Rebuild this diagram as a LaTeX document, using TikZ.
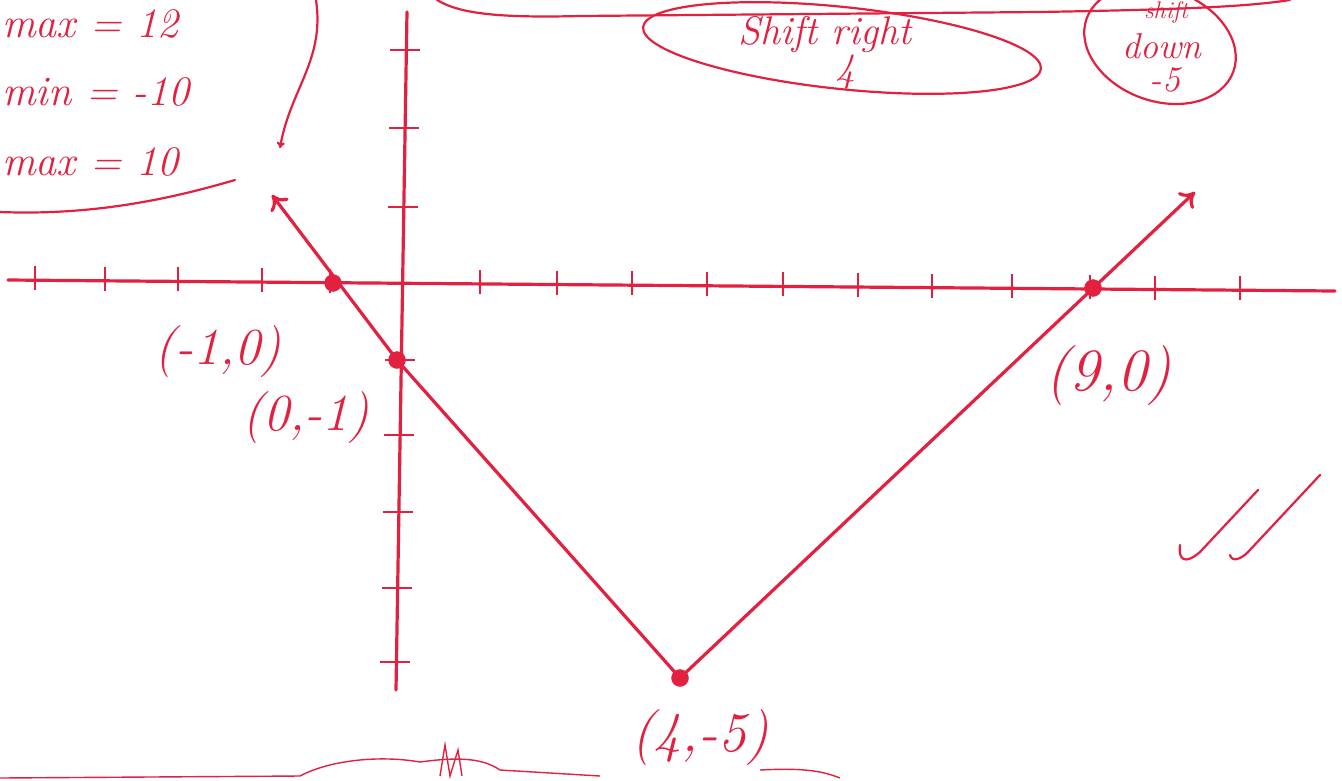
\documentclass[tikz,border=0pt]{standalone}
\usetikzlibrary{arrows.meta,shapes.geometric}
\definecolor{ink}{RGB}{226,32,64}
\begin{document}
\begin{tikzpicture}[x=1pt,y=-1pt,
  pen/.style={ink,line width=3.2pt,line cap=round,line join=round},
  thin pen/.style={ink,line width=2.2pt,line cap=round},
  dotpt/.style={circle,fill=ink,draw=ink,inner sep=0pt,minimum size=17pt},
  lab/.style={ink,font=\fontsize{52}{56}\selectfont\itshape},
  note/.style={ink,font=\fontsize{42}{46}\selectfont\itshape},
  small note/.style={ink,font=\fontsize{40}{44}\selectfont\itshape},
  tick/.style={ink,line width=2.4pt}]
\useasboundingbox (0,0) rectangle (1342,780);
% axes
\coordinate (xl) at (8,280); \coordinate (xr) at (1335,291);
\coordinate (yt) at (407,12); \coordinate (yb) at (396,690);
\draw[pen] (xl) -- (xr);
\draw[pen] (yt) -- (yb);
% x ticks
\foreach \x/\y in {35/280,105/281,178/281,262/282,330/283,480/284,557/285,632/285,707/286,783/286,858/287,932/288,1012/288,1090/289,1155/290,1240/290}
  \draw[tick] (\x,\y-14) -- (\x,\y+10);
% y ticks
\foreach \x/\y in {406/50,405/128,404/207,401/360,400/435,399/512,398/588,396/662}
  \draw[tick] (\x-16,\y) -- (\x+14,\y);
% points
\node[dotpt] (p1) at (333,283) {};
\node[dotpt] (p2) at (397,360) {};
\node[dotpt] (p3) at (1093,288) {};
\node[dotpt] (p4) at (680,678) {};
\coordinate (aL) at (272,195);
\coordinate (aR) at (1195,192);
% graph
\draw[pen,-{To[length=14pt,width=22pt]}] (p4.center) -- (p2.center) -- (aL);
\draw[pen,-{To[length=14pt,width=22pt]}] (p4.center) -- (aR);
% labels
\node[lab] (l1) at (218,352) {(-1,0)};
\node[lab] (l2) at (306,418) {(0,-1)};
\node[lab,font=\fontsize{60}{64}\selectfont\itshape] (l3) at (1108,376) {(9,0)};
\node[lab,font=\fontsize{56}{60}\selectfont\itshape] (l4) at (700,738) {(4,-5)};
% window notes
\node[note,anchor=west,inner sep=0pt] (n1) at (2,24) {max = 12};
\node[note,anchor=west,inner sep=0pt] (n2) at (2,92) {min = -10};
\node[note,anchor=west,inner sep=0pt] (n3) at (2,162) {max = 10};
\draw[thin pen] (0,212) .. controls (100,216) and (180,196) .. (235,180);
\coordinate (br) at (280,148);
\draw[thin pen,-{To[length=6pt,width=8pt]}] (316,0) .. controls (325,60) and (290,90) .. (br);
% shift notes
\draw[thin pen] (437,0) .. controls (460,14) and (500,18) .. (580,16) -- (1040,12) .. controls (1150,10) and (1240,8) .. (1290,0);
\node[ellipse,draw,thin pen,rotate=-6,minimum width=400pt,minimum height=82pt] (e1) at (842,48) {};
\node[small note] (s1) at (825,34) {Shift right};
\node[small note] (s2) at (845,72) {4};
\draw[thin pen,rotate around={-20:(1160,45)}] (1160,45) ellipse (78pt and 56pt);
\node[small note,font=\fontsize{24}{26}\selectfont\itshape] (d0) at (1166,12) {shift};
\node[small note,font=\fontsize{36}{40}\selectfont\itshape] (d1) at (1162,46) {down};
\node[small note,font=\fontsize{36}{40}\selectfont\itshape] (d2) at (1165,80) {-5};
% check marks
\draw[thin pen] (1180,545) .. controls (1178,560) and (1185,565) .. (1200,552) -- (1258,490);
\draw[thin pen] (1230,555) .. controls (1232,562) and (1240,560) .. (1248,552) -- (1320,475);
% bottom scribble
\draw[ink,line width=1.4pt] (0,778) -- (300,776) .. controls (330,760) and (380,755) .. (420,762) .. controls (450,758) and (480,756) .. (500,770) -- (600,776);
\draw[ink,line width=1.4pt] (440,776) -- (445,745) -- (450,776) -- (458,750) -- (462,776);
\draw[ink,line width=1.4pt] (760,770) .. controls (800,768) and (820,770) .. (840,778);
\end{tikzpicture}
\end{document}
